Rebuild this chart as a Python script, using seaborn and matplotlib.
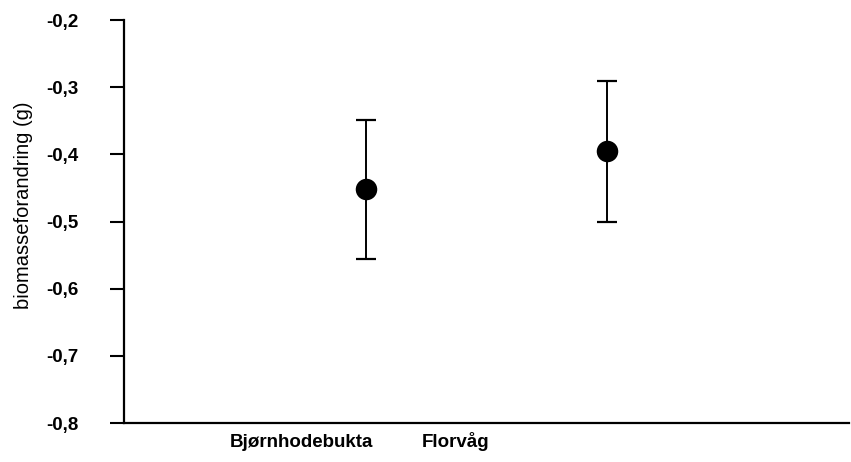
import pandas as pd
import matplotlib.pyplot as plt
import seaborn as sns
from matplotlib.ticker import FuncFormatter

# Data
sites = ['Bjørnhodebukta', 'Florvåg']
mean_change = [-0.452, -0.395]
lower = [-0.556, -0.500]
upper = [-0.349, -0.291]
y_ticks = [-0.8, -0.7, -0.6, -0.5, -0.4, -0.3, -0.2]

df = pd.DataFrame({'site': sites, 'change': mean_change, 'lo': lower, 'hi': upper})
df['pos'] = range(len(df))

sns.set_theme(style="white", rc={'text.color': 'black', 'axes.labelcolor': 'black',
                                 'xtick.color': 'black', 'ytick.color': 'black'})
plt.rcParams['font.family'] = ['Liberation Sans', 'DejaVu Sans']

fig = plt.figure(figsize=(8.51, 4.62), dpi=100)
ax = fig.add_axes([0.1457, 0.0844, 0.852, 0.8723])

# error bars
ax.errorbar(df['pos'], df['change'],
            yerr=[df['change'] - df['lo'], df['hi'] - df['change']],
            fmt='none', ecolor='black', elinewidth=1.4, capsize=7, capthick=1.6, zorder=2)
sns.scatterplot(data=df, x='pos', y='change', ax=ax, color='black', s=240,
                edgecolor='black', linewidth=0, zorder=3, legend=False)

ax.set_xlim(-1, 2)
ax.set_ylim(-0.8, -0.2)
ax.set_yticks(y_ticks)
ax.yaxis.set_major_formatter(FuncFormatter(lambda v, p: f'{v:.1f}'.replace('.', ',')))

# category labels sit left of the points in the original
ax.set_xticks([-0.265, 0.37])
ax.set_xticklabels(sites, fontsize=13.5, fontweight='bold')
ax.tick_params(axis='x', length=0, pad=17)
for lab in ax.get_xticklabels():
    lab.set_verticalalignment('baseline')
ax.tick_params(axis='y', length=10, width=1.5, direction='out', left=True,
               labelsize=13.5, pad=23)
for lab in ax.get_yticklabels():
    lab.set_fontweight('bold')

ax.set_xlabel('')
ax.set_ylabel('biomasseforandring (g)', fontsize=14.5)
ax.yaxis.set_label_coords(-0.126, 0.54)

sns.despine(ax=ax)
for side in ['left', 'bottom']:
    ax.spines[side].set_linewidth(1.6)
    ax.spines[side].set_color('black')

fig.savefig('out.png', dpi=100)
